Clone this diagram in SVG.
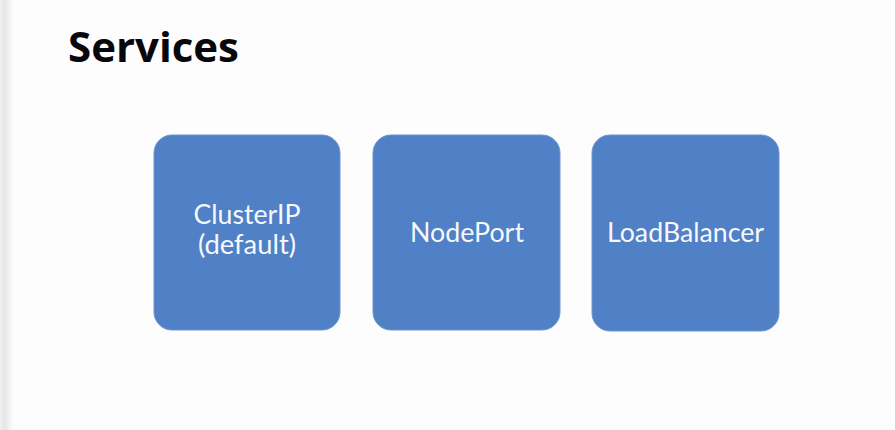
<svg xmlns="http://www.w3.org/2000/svg" width="895" height="430" viewBox="0 0 895 430">
<defs>
<linearGradient id="edge" x1="0" y1="0" x2="1" y2="0">
<stop offset="0" stop-color="#f2f1f2"/>
<stop offset="0.3" stop-color="#e6e5e7"/>
<stop offset="1" stop-color="#fefdfe"/>
</linearGradient>
<style>
.box{fill:#5080c6;stroke:#6e94cc;stroke-width:1}
.lbl{font-family:Lato,"Liberation Sans",sans-serif;font-size:26px;fill:#f6f8fc;text-anchor:middle}
.title{font-family:"Open Sans","DejaVu Sans",sans-serif;font-weight:bold;font-size:41px;fill:#08070b}
</style>
</defs>
<rect x="0" y="0" width="895" height="430" fill="#fefdfe"/>
<rect x="0" y="0" width="14" height="430" fill="url(#edge)"/>
<text class="title" x="68" y="62" textLength="171" lengthAdjust="spacingAndGlyphs">Services</text>
<g id="clusterip">
<rect class="box" x="154" y="135" width="186" height="195" rx="18"/>
<text class="lbl" x="247" y="224" textLength="107" lengthAdjust="spacingAndGlyphs">ClusterIP</text>
<text class="lbl" x="247" y="254" textLength="98" lengthAdjust="spacingAndGlyphs">(default)</text>
</g>
<g id="nodeport">
<rect class="box" x="373" y="135" width="187" height="195" rx="18"/>
<text class="lbl" x="467" y="242" textLength="114" lengthAdjust="spacingAndGlyphs">NodePort</text>
</g>
<g id="loadbalancer">
<rect class="box" x="592" y="135" width="187" height="196" rx="18"/>
<text class="lbl" x="685.5" y="242" textLength="157" lengthAdjust="spacingAndGlyphs">LoadBalancer</text>
</g>
<g id="connectors"></g>
</svg>
